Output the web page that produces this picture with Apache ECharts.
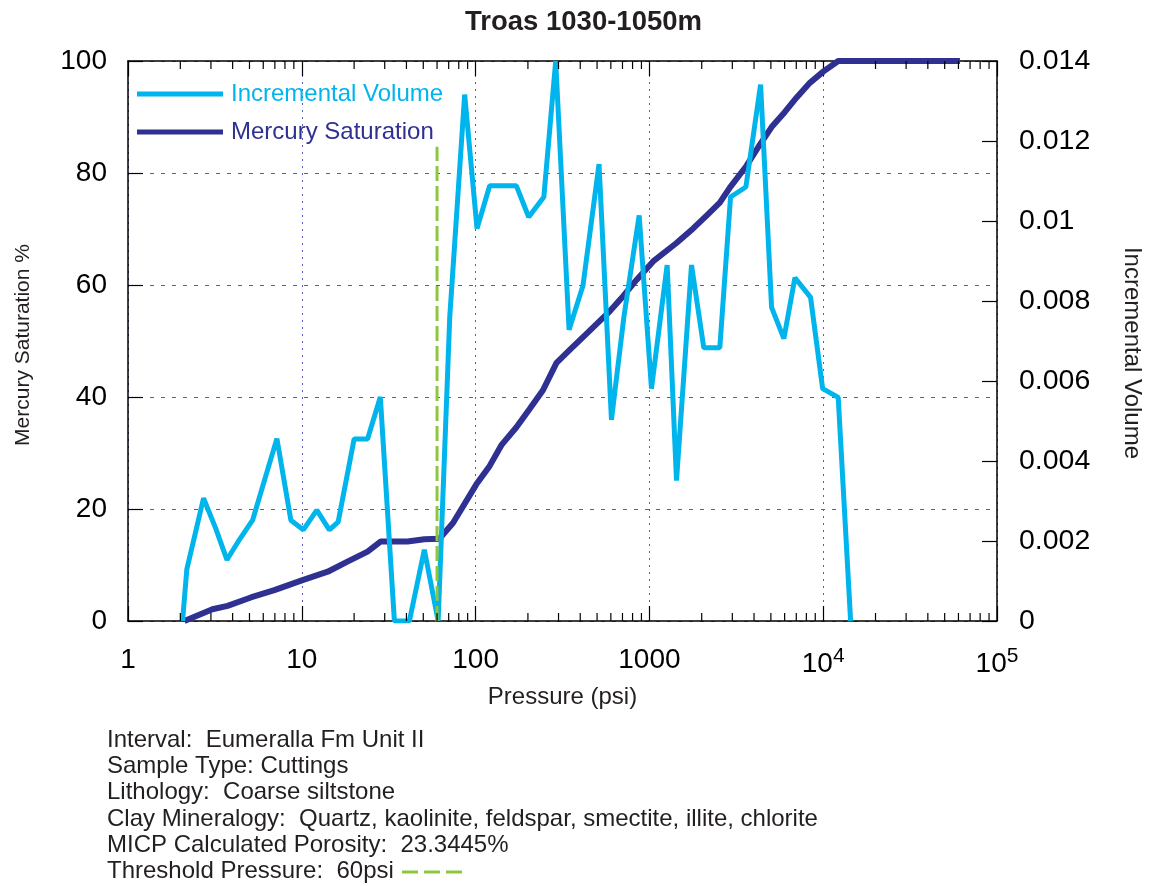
<!DOCTYPE html>
<html>
<head>
<meta charset="utf-8">
<script src="https://cdn.jsdelivr.net/npm/echarts@6/dist/echarts.min.js"></script>
<style>
html,body{margin:0;padding:0;background:#fff;}
#chart{width:1153px;height:886px;}
</style>
</head>
<body>
<div id="chart"></div>
<script>
// ---- Data ----
const volPressure = [2.06, 2.18, 2.72, 3.20, 3.71, 4.37, 5.21, 7.19, 8.65, 10.2, 12.2, 14.4, 16.2, 20.0, 23.9, 28.3, 34.1, 41.6, 50.7, 60.9, 71.0, 86.5, 101.9, 120.5, 171.7, 202, 247, 289, 345, 415, 513, 605, 713, 873, 1028, 1265, 1432, 1747, 2056, 2542, 2930, 3590, 4363, 5047, 5939, 6875, 8459, 9925, 12200, 14380];
const incrementalVolume = [0, 0.00129, 0.00307, 0.00231, 0.00153, 0.00203, 0.00252, 0.00456, 0.00252, 0.00228, 0.00277, 0.00228, 0.00248, 0.00455, 0.00455, 0.0056, 0, 0, 0.00178, 0, 0.0076, 0.01316, 0.00981, 0.01088, 0.01088, 0.0101, 0.0106, 0.014, 0.00728, 0.00839, 0.01142, 0.00503, 0.0076, 0.01014, 0.00581, 0.0089, 0.00351, 0.0089, 0.00683, 0.00683, 0.0106, 0.01085, 0.01341, 0.00784, 0.00706, 0.00858, 0.00809, 0.00581, 0.00559, 0];
const satPressure = [2.11, 3.06, 3.74, 5.09, 6.95, 10.1, 14.1, 18.3, 23.9, 28.5, 40.6, 50.7, 61.9, 74.1, 101, 120.5, 140.7, 171.7, 205, 244, 292, 348, 415, 496, 591, 706, 843, 1050, 1432, 1786, 2133, 2542, 2903, 3623, 4225, 5047, 6021, 7037, 8380, 10000, 12200, 61200];
const mercurySaturation = [0, 2.1, 2.7, 4.2, 5.5, 7.3, 8.8, 10.6, 12.4, 14.2, 14.2, 14.6, 14.7, 17.5, 24.4, 27.7, 31.4, 34.6, 37.9, 41.2, 46.1, 48.4, 50.7, 53.0, 55.3, 58.0, 60.9, 64.2, 67.5, 70.1, 72.4, 74.7, 77.4, 81.3, 84.6, 88.2, 90.9, 93.5, 96.1, 98.1, 100, 100];
const thresholdPressure = 60;
const thresholdTop = 84.7;
const xTickLabels = {1: '1', 10: '10', 100: '100', 1000: '1000', 10000: '10{sup|4}', 100000: '10{sup|5}'};
const minorTickValues = [];
[1, 10, 100, 1000, 10000].forEach(d => { for (let m = 2; m <= 9; m++) minorTickValues.push(d * m); });
const leftAxisName = 'Mercury Saturation %';
const rightAxisName = 'Incremental Volume';
const infoLines = [
  'Interval:  Eumeralla Fm Unit II',
  'Sample Type: Cuttings',
  'Lithology:  Coarse siltstone',
  'Clay Mineralogy:  Quartz, kaolinite, feldspar, smectite, illite, chlorite',
  'MICP Calculated Porosity:  23.3445%',
  'Threshold Pressure:  60psi'
];

// ---- Chart ----
const FONT = '"Liberation Sans", Arial, Helvetica, sans-serif';
const LIGHT = '#00b4ec';
const DARK = '#2e3192';
const GREEN = '#8dc63f';
const GRIDC = '#5559c4';

const chart = echarts.init(document.getElementById('chart'));

const graphics = infoLines.map((t, i) => ({
  type: 'text', x: 107, y: 740 + i * 26.3,
  style: {text: t, font: '24px ' + FONT, fill: '#231f20', verticalAlign: 'middle'}
}));
graphics.push({
  type: 'line', shape: {x1: 402, y1: 872, x2: 463, y2: 872},
  style: {stroke: GREEN, lineWidth: 3, lineDash: [16, 6]}
});
graphics.push({
  type: 'text', x: 23, y: 345, rotation: Math.PI / 2,
  style: {text: leftAxisName, font: '21px ' + FONT, fill: '#231f20', align: 'center', verticalAlign: 'middle'}
});
graphics.push({
  type: 'text', x: 1132, y: 353, rotation: -Math.PI / 2,
  style: {text: rightAxisName, font: '24px ' + FONT, fill: '#231f20', align: 'center', verticalAlign: 'middle'}
});

const option = {
  animation: false,
  backgroundColor: '#fff',
  textStyle: {fontFamily: FONT},
  title: {
    text: 'Troas 1030-1050m', left: 465, top: 8, padding: 0,
    textStyle: {fontSize: 27.5, fontWeight: 'bold', color: '#231f20', fontFamily: FONT}
  },
  legend: {
    left: 137, top: 82, padding: 0, orient: 'vertical', itemWidth: 86, itemHeight: 5, itemGap: 14,
    icon: 'rect',
    textStyle: {fontSize: 24, fontFamily: FONT, padding: [0, 0, 0, 3]},
    data: [
      {name: 'Incremental Volume', textStyle: {color: LIGHT}},
      {name: 'Mercury Saturation', textStyle: {color: DARK}}
    ]
  },
  grid: {left: 128, right: 156, top: 61, bottom: 265},
  xAxis: [
    {
      type: 'log', logBase: 10, min: 1, max: 100000, position: 'bottom',
      name: 'Pressure (psi)', nameLocation: 'middle', nameGap: 64,
      nameTextStyle: {fontSize: 24, color: '#231f20', fontFamily: FONT},
      axisLine: {onZero: false, lineStyle: {color: '#000', width: 1.5}},
      axisTick: {inside: true, length: 15, lineStyle: {color: '#000', width: 1.2}},
      axisLabel: {
        margin: 25, fontSize: 28, color: '#000', fontFamily: FONT,
        formatter: v => xTickLabels[Math.round(v)] || '',
        rich: {sup: {fontSize: 21, verticalAlign: 'top', padding: [0, 0, 16, 0], color: '#000', fontFamily: FONT}}
      },
      splitLine: {show: true, lineStyle: {color: GRIDC, type: [2, 5], width: 1}}
    },
    {
      type: 'log', logBase: 10, min: 1, max: 100000, position: 'top',
      axisLine: {onZero: false, lineStyle: {color: '#000', width: 1.5}},
      axisTick: {inside: true, length: 15, lineStyle: {color: '#000', width: 1.2}},
      axisLabel: {show: false},
      splitLine: {show: false}
    }
  ],
  yAxis: [
    {
      type: 'value', min: 0, max: 100, interval: 20, position: 'left',
      axisLine: {show: true, onZero: false, lineStyle: {color: '#000', width: 1.5}},
      axisTick: {show: true, inside: true, length: 15, lineStyle: {color: '#000', width: 1.2}},
      axisLabel: {margin: 21, fontSize: 28, color: '#000', fontFamily: FONT},
      splitLine: {show: true, lineStyle: {color: GRIDC, type: [4, 7], width: 1}}
    },
    {
      type: 'value', min: 0, max: 0.014, interval: 0.002, position: 'right',
      axisLine: {show: true, onZero: false, lineStyle: {color: '#000', width: 1.5}},
      axisTick: {show: true, inside: true, length: 15, lineStyle: {color: '#000', width: 1.2}},
      axisLabel: {margin: 22, fontSize: 28.5, color: '#000', fontFamily: FONT,
        formatter: v => String(+v.toFixed(3))},
      splitLine: {show: false}
    }
  ],
  series: [
    {
      name: 'Mercury Saturation', type: 'line', xAxisIndex: 0, yAxisIndex: 0,
      data: satPressure.map((p, i) => [p, mercurySaturation[i]]),
      showSymbol: false, symbol: 'none', lineStyle: {color: DARK, width: 6}, itemStyle: {color: DARK},
      clip: true, z: 3
    },
    {
      name: 'Incremental Volume', type: 'line', xAxisIndex: 0, yAxisIndex: 1,
      data: volPressure.map((p, i) => [p, incrementalVolume[i]]),
      showSymbol: false, symbol: 'none', lineStyle: {color: LIGHT, width: 5}, itemStyle: {color: LIGHT},
      clip: true, z: 4
    },
    {
      name: 'Threshold', type: 'line', xAxisIndex: 0, yAxisIndex: 0,
      data: [[thresholdPressure, 0], [thresholdPressure, thresholdTop]],
      showSymbol: false, symbol: 'none', lineStyle: {color: GREEN, width: 3, type: [15, 5]},
      silent: true, z: 5
    },
    {
      name: 'minorTicks', type: 'custom', xAxisIndex: 0, yAxisIndex: 0, silent: true, z: 6,
      data: minorTickValues.map(v => [v]),
      renderItem: (params, api) => {
        const b = api.coord([api.value(0), 0]);
        const t = api.coord([api.value(0), 100]);
        const st = {stroke: '#000', lineWidth: 1.2};
        return {type: 'group', children: [
          {type: 'line', shape: {x1: b[0], y1: b[1], x2: b[0], y2: b[1] - 8}, style: st},
          {type: 'line', shape: {x1: t[0], y1: t[1], x2: t[0], y2: t[1] + 8}, style: st}
        ]};
      }
    }
  ],
  graphic: graphics
};
chart.setOption(option);
</script>
</body>
</html>
